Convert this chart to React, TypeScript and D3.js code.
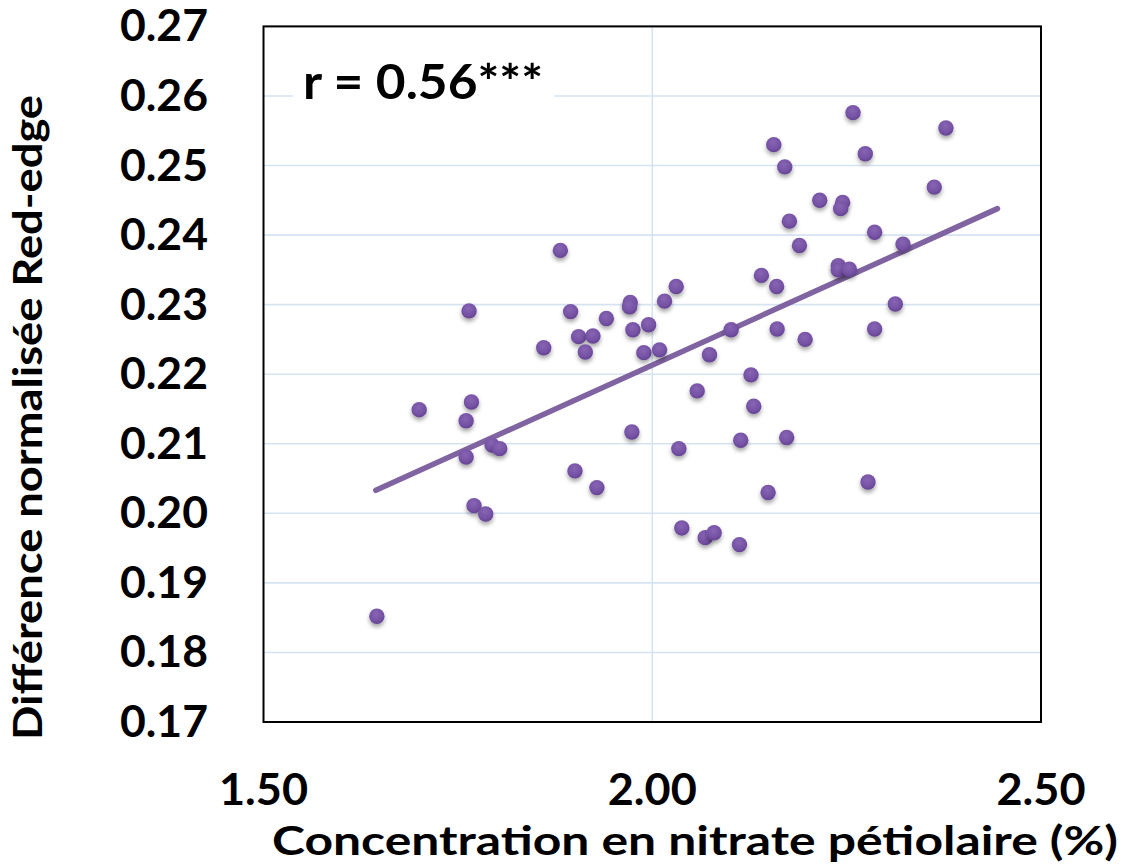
import React from "react";
import * as d3 from "d3";

const nitrate: number[] = [
  1.8818, 1.7644, 1.895, 1.941, 1.9717, 1.9708, 2.0158, 1.8604, 1.9053, 1.9237,
  1.9139, 1.9751, 1.9953, 1.9892, 2.0094, 2.0308, 2.0736, 2.1015, 2.127, 2.1563,
  2.1704, 2.2582, 2.274, 2.3777, 2.3627, 2.2154, 2.2449, 2.2423, 2.1764, 2.286,
  2.1893, 2.3225, 2.2393, 2.2393, 2.2535, 2.1404, 2.16, 2.3126, 2.1606, 2.1966,
  2.286, 1.7002, 1.7675, 1.7606, 1.794, 1.8038, 1.7606, 1.9738, 1.9006, 1.9288,
  1.7708, 1.7858, 1.6458, 2.0578, 2.1305, 2.0342, 2.1138, 2.1729, 2.2775, 2.149,
  2.038, 2.0681, 2.0796, 2.1122,
];
const redEdge: number[] = [
  0.2378, 0.2291, 0.229, 0.228, 0.2303, 0.2297, 0.2305, 0.2238, 0.2254, 0.2255,
  0.2232, 0.2264, 0.2271, 0.2231, 0.2235, 0.2326, 0.2228, 0.2264, 0.2199, 0.253,
  0.2498, 0.2576, 0.2517, 0.2554, 0.2469, 0.245, 0.2447, 0.2438, 0.242, 0.2404,
  0.2385, 0.2387, 0.2356, 0.235, 0.2351, 0.2342, 0.2326, 0.2301, 0.2265, 0.225,
  0.2265, 0.2149, 0.216, 0.2133, 0.2098, 0.2093, 0.2081, 0.2117, 0.2061, 0.2037,
  0.2011, 0.1999, 0.1852, 0.2176, 0.2154, 0.2093, 0.2105, 0.2109, 0.2045, 0.203,
  0.1979, 0.1965, 0.1972, 0.1955,
];
const xTicks: number[] = [1.5, 2.0, 2.5];
const yTicks: number[] = [0.17, 0.18, 0.19, 0.2, 0.21, 0.22, 0.23, 0.24, 0.25, 0.26, 0.27];
const trendX: number[] = [1.6445, 2.444];
const trendSlope = 0.05066;
const trendIntercept = 0.11999;
const rLabel = "r = 0.56***";
const xTitle = "Concentration en nitrate pétiolaire (%)";
const yTitle = "Différence normalisée Red-edge";

const FONT = "Lato, 'Open Sans', sans-serif";

export default function App() {
  const W = 1127, H = 864;
  const left = 263.5, right = 1041, top = 26.4, bottom = 722;
  const x = d3.scaleLinear().domain([1.5, 2.5]).range([left, right]);
  const y = d3.scaleLinear().domain([0.17, 0.27]).range([bottom, top]);
  const pts = nitrate.map((v, i) => [v, redEdge[i]] as [number, number]);
  const line = d3.line<number>().x((d) => x(d)).y((d) => y(trendIntercept + trendSlope * d));

  return (
    <svg width={W} height={H} style={{ position: "absolute", left: 0, top: 0, background: "#fff" }}>
      <defs>
        <radialGradient id="dot" cx="45%" cy="35%" r="65%">
          <stop offset="0%" stopColor="#8765b3" />
          <stop offset="70%" stopColor="#7551a4" />
          <stop offset="100%" stopColor="#634390" />
        </radialGradient>
        <filter id="shadow" x="-50%" y="-50%" width="200%" height="200%">
          <feDropShadow dx="0" dy="3" stdDeviation="2" floodColor="#000" floodOpacity="0.35" />
        </filter>
      </defs>
      {yTicks.map((t) => (
        <line key={"gy" + t} x1={left} x2={right} y1={y(t)} y2={y(t)} stroke="#d6e3f3" strokeWidth={1.6} />
      ))}
      {xTicks.slice(1, -1).map((t) => (
        <line key={"gx" + t} x1={x(t)} x2={x(t)} y1={top} y2={bottom} stroke="#d6e3f3" strokeWidth={1.6} />
      ))}
      <rect x={293} y={58} width={261} height={50} fill="#fff" />
      <text x={303} y={99} fontFamily={FONT} fontWeight={700} fontSize={48} textLength={240} lengthAdjust="spacingAndGlyphs" fill="#000">
        {rLabel}
      </text>
      <rect x={left} y={top} width={right - left} height={bottom - top} fill="none" stroke="#000" strokeWidth={2} />
      <path d={line(trendX) || ""} fill="none" stroke="#8064a2" strokeWidth={5.5} strokeLinecap="round" />
      {pts.map((p, i) => (
        <circle key={i} cx={x(p[0])} cy={y(p[1])} r={7.7} fill="url(#dot)" filter="url(#shadow)" />
      ))}
      {yTicks.map((t) => (
        <text key={"ty" + t} x={208} y={y(t)} dy="0.35em" textAnchor="end" fontFamily={FONT} fontWeight={700} fontSize={43} textLength={88} lengthAdjust="spacingAndGlyphs" fill="#000">
          {d3.format(".2f")(t)}
        </text>
      ))}
      {xTicks.map((t) => (
        <text key={"tx" + t} x={x(t)} y={805} textAnchor="middle" fontFamily={FONT} fontWeight={700} fontSize={43} textLength={89} lengthAdjust="spacingAndGlyphs" fill="#000">
          {d3.format(".2f")(t)}
        </text>
      ))}
      <text x={272} y={855} fontFamily={FONT} fontWeight={700} fontSize={40} textLength={846} lengthAdjust="spacingAndGlyphs" fill="#000">
        {xTitle}
      </text>
      <text transform="translate(42,417.5) rotate(-90)" textAnchor="middle" fontFamily={FONT} fontWeight={700} fontSize={40} textLength={645} lengthAdjust="spacingAndGlyphs" fill="#000">
        {yTitle}
      </text>
    </svg>
  );
}
